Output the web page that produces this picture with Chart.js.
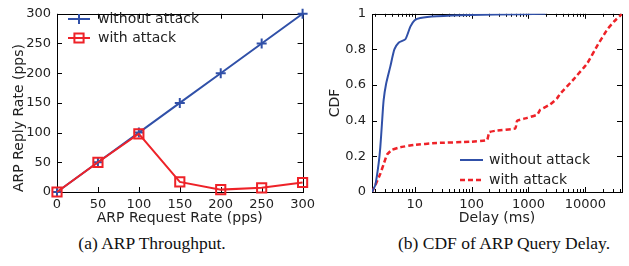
<!DOCTYPE html>
<html>
<head>
<meta charset="utf-8">
<script src="https://cdn.jsdelivr.net/npm/chart.js@4.4.0/dist/chart.umd.min.js"></script>
<style>
  body { margin: 0; background: #fff; width: 629px; height: 266px; overflow: hidden; position: relative; }
  #throughput { position: absolute; left: 0; top: 0; }
  #delay { position: absolute; left: 320px; top: 0; }
  .cap { position: absolute; top: 233px; font-family: "Liberation Serif", serif; font-size: 17.5px; color: #111;
         white-space: nowrap; transform: translateX(-50%); }
</style>
</head>
<body>
<canvas id="throughput" width="320" height="230"></canvas>
<canvas id="delay" width="309" height="230"></canvas>
<div class="cap" style="left:152px">(a) ARP Throughput.</div>
<div class="cap" style="left:504px">(b) CDF of ARP Query Delay.</div>
<script>
// (a) throughput
const requestRate = [0, 50, 100, 150, 200, 250, 300];
const replyWithoutAttack = [0, 50, 100, 150, 200, 250, 300];
const replyWithAttack = [0, 50, 98, 17, 4, 7, 16];
const rateTicks = [0, 50, 100, 150, 200, 250, 300];

// (b) delay CDF (ms)
const delayWithoutAttack = [1.78, 2.04, 2.33, 2.49, 2.67, 2.85, 3.14, 3.74, 4.4, 5.23, 6.87, 8.4, 10, 12.6, 24.6, 95, 724, 2000];
const cdfWithoutAttack = [0, 0.04, 0.16, 0.25, 0.39, 0.515, 0.605, 0.705, 0.80, 0.838, 0.857, 0.928, 0.964, 0.977, 0.986, 0.993, 0.998, 1.0];
const delayWithAttack = [1.78, 2.04, 2.49, 2.85, 3.27, 4.0, 5.6, 9.6, 24.6, 95, 187, 205, 280, 590, 630, 950, 1420, 1610, 2420, 3150, 3600, 6200, 10800, 16100, 24000, 31500, 44000];
const cdfWithAttack = [0, 0.039, 0.102, 0.156, 0.21, 0.237, 0.251, 0.264, 0.275, 0.282, 0.291, 0.336, 0.345, 0.357, 0.399, 0.416, 0.434, 0.461, 0.492, 0.524, 0.551, 0.632, 0.722, 0.82, 0.91, 0.955, 1.0];
const delayLabelTicks = [10, 100, 1000, 10000];
const cdfTicks = [0, 0.2, 0.4, 0.6, 0.8, 1];

const BLUE = '#3050a8';
const RED = '#ee2228';
const TEXT = '#222';
const FONT = 'DejaVu Sans';

// fixed axis sizes so the plot boxes land where the figure has them
function fixWidth(w) { return s => { s.width = w; }; }
function fixHeight(h) { return s => { s.height = h; }; }

// box around the plot + gnuplot-like inward ticks on all four sides
const frameTicks = {
  id: 'frameTicks',
  beforeDatasetsDraw(chart, args, opts) {
    const { ctx, chartArea: a, scales: { x, y } } = chart;
    ctx.save();
    ctx.strokeStyle = '#000';
    ctx.lineWidth = 1;
    ctx.strokeRect(Math.round(a.left) + 0.5, Math.round(a.top) + 0.5,
                   Math.round(a.right - a.left), Math.round(a.bottom - a.top));
    ctx.beginPath();
    x.ticks.forEach(t => {
      const px = Math.round(x.getPixelForValue(t.value)) + 0.5;
      const len = opts.isMinorX && opts.isMinorX(t.value) ? 3 : 5;
      ctx.moveTo(px, a.bottom); ctx.lineTo(px, a.bottom - len);
      ctx.moveTo(px, a.top); ctx.lineTo(px, a.top + len);
    });
    y.ticks.forEach(t => {
      const py = Math.round(y.getPixelForValue(t.value)) + 0.5;
      ctx.moveTo(a.left, py); ctx.lineTo(a.left + 5, py);
      ctx.moveTo(a.right, py); ctx.lineTo(a.right - 5, py);
    });
    ctx.stroke();
    ctx.restore();
  }
};

// legend drawn inside the plot: line sample with the dataset's marker
const insideLegend = {
  id: 'insideLegend',
  afterDraw(chart, args, opts) {
    const { ctx } = chart;
    ctx.save();
    chart.data.datasets.forEach((ds, i) => {
      const y = opts.y + i * opts.gap;
      ctx.strokeStyle = ds.borderColor;
      ctx.lineWidth = ds.borderWidth;
      ctx.setLineDash(ds.borderDash || []);
      ctx.beginPath();
      ctx.moveTo(opts.x1, y); ctx.lineTo(opts.x2, y);
      ctx.stroke();
      ctx.setLineDash([]);
      if (ds.pointRadius) {
        ctx.lineWidth = ds.pointBorderWidth;
        ctx.fillStyle = 'rgba(0,0,0,0)';
        Chart.helpers.drawPoint(ctx, { pointStyle: ds.pointStyle, radius: ds.pointRadius, borderWidth: ds.pointBorderWidth, rotation: 0 },
          (opts.x1 + opts.x2) / 2, y);
      }
      ctx.fillStyle = TEXT;
      ctx.font = '14px "' + FONT + '"';
      ctx.textBaseline = 'middle';
      ctx.fillText(ds.label, opts.textX, y);
    });
    ctx.restore();
  }
};

const tickFont = { family: FONT, size: 13 };
const titleFont = { family: FONT, size: 14 };

new Chart(document.getElementById('throughput'), {
  type: 'line',
  data: {
    labels: requestRate,
    datasets: [
      { label: 'without attack', data: replyWithoutAttack, borderColor: BLUE, borderWidth: 2,
        pointStyle: 'cross', pointRadius: 5, pointBorderWidth: 2, pointBorderColor: BLUE,
        backgroundColor: 'transparent', order: 1, clip: false },
      { label: 'with attack', data: replyWithAttack, borderColor: RED, borderWidth: 2,
        pointStyle: 'rect', pointRadius: 6.5, pointBorderWidth: 2, pointBorderColor: RED,
        pointBackgroundColor: 'transparent', backgroundColor: 'transparent', order: 0, clip: false }
    ]
  },
  options: {
    responsive: false,
    animation: false,
    layout: { padding: { left: 0, top: 7, right: 13, bottom: 0 } },
    plugins: {
      legend: { display: false },
      tooltip: { enabled: false },
      frameTicks: {},
      insideLegend: { x1: 68, x2: 90, textX: 98, y: 19, gap: 19 }
    },
    scales: {
      x: {
        type: 'linear', min: 0, max: 300,
        afterBuildTicks: s => { s.ticks = rateTicks.map(v => ({ value: v })); },
        afterFit: fixHeight(38),
        grid: { display: false, drawTicks: false },
        border: { display: false },
        ticks: { font: tickFont, color: TEXT, padding: 5, maxRotation: 0, autoSkip: false },
        title: { display: true, text: 'ARP Request Rate (pps)', font: titleFont, color: TEXT, padding: { top: 0, bottom: 3 } }
      },
      y: {
        type: 'linear', min: 0, max: 300,
        afterBuildTicks: s => { s.ticks = rateTicks.map(v => ({ value: v })); },
        afterFit: fixWidth(57),
        grid: { display: false, drawTicks: false },
        border: { display: false },
        ticks: { font: tickFont, color: TEXT, padding: 6 },
        title: { display: true, text: 'ARP Reply Rate (pps)', align: 'start', font: titleFont, color: TEXT, padding: { top: 11, bottom: 0 } }
      }
    }
  },
  plugins: [frameTicks, insideLegend]
});

// log ticks: labelled decades plus unlabelled 2..9 multiples
const delayAllTicks = [];
[1, 10, 100, 1000, 10000].forEach(d => {
  for (let m = 1; m <= 9; m++) {
    const v = d * m;
    if (v >= 1.78 && v <= 44000) delayAllTicks.push(v);
  }
});

new Chart(document.getElementById('delay'), {
  type: 'line',
  data: {
    datasets: [
      { label: 'without attack', data: delayWithoutAttack.map((d, i) => ({ x: d, y: cdfWithoutAttack[i] })),
        borderColor: BLUE, borderWidth: 2, pointRadius: 0, backgroundColor: 'transparent', tension: 0.2 },
      { label: 'with attack', data: delayWithAttack.map((d, i) => ({ x: d, y: cdfWithAttack[i] })),
        borderColor: RED, borderWidth: 2.5, borderDash: [5, 3], pointRadius: 0, backgroundColor: 'transparent', tension: 0.1 }
    ]
  },
  options: {
    responsive: false,
    animation: false,
    layout: { padding: { left: 0, top: 7, right: 7, bottom: 0 } },
    plugins: {
      legend: { display: false },
      tooltip: { enabled: false },
      frameTicks: { isMinorX: v => !delayLabelTicks.includes(v) },
      insideLegend: { x1: 140, x2: 163, textX: 169, y: 160, gap: 20 }
    },
    scales: {
      x: {
        type: 'logarithmic', min: 1.78, max: 44000,
        afterBuildTicks: s => { s.ticks = delayAllTicks.map(v => ({ value: v })); },
        afterFit: fixHeight(38),
        grid: { display: false, drawTicks: false },
        border: { display: false },
        ticks: { font: tickFont, color: TEXT, padding: 5, maxRotation: 0, autoSkip: false,
                 callback: v => delayLabelTicks.includes(v) ? String(v) : '' },
        title: { display: true, text: 'Delay (ms)', font: titleFont, color: TEXT, padding: { top: 0, bottom: 3 } }
      },
      y: {
        type: 'linear', min: 0, max: 1,
        afterBuildTicks: s => { s.ticks = cdfTicks.map(v => ({ value: v })); },
        afterFit: fixWidth(52),
        grid: { display: false, drawTicks: false },
        border: { display: false },
        ticks: { font: tickFont, color: TEXT, padding: 6, callback: v => String(v) },
        title: { display: true, text: 'CDF', font: titleFont, color: TEXT, padding: { top: 7, bottom: 0 } }
      }
    }
  },
  plugins: [frameTicks, insideLegend]
});
</script>
</body>
</html>
